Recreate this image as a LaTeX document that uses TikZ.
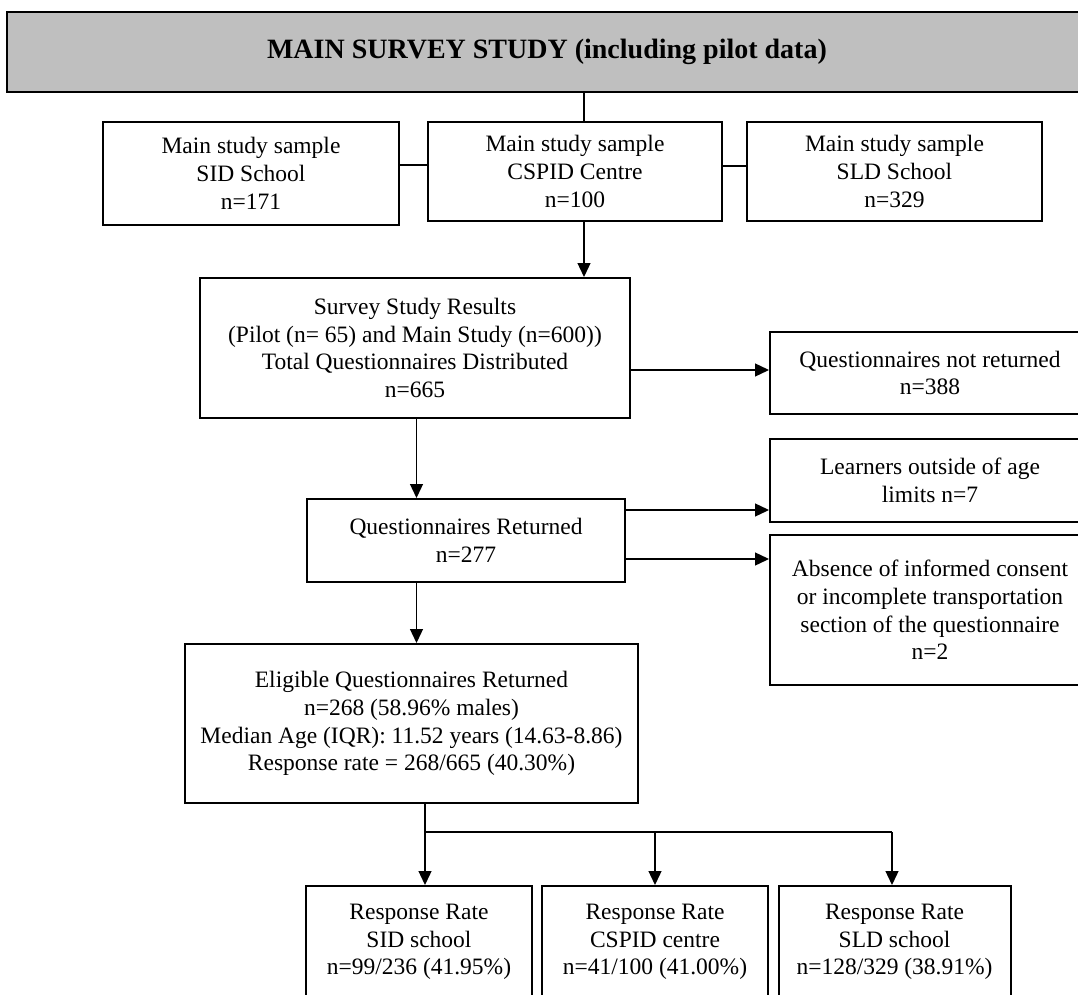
\documentclass[tikz,border=0pt]{standalone}
\usepackage{fontspec}
\setmainfont{Liberation Serif}
\usetikzlibrary{arrows.meta}
\definecolor{titlegray}{RGB}{191,191,191}
\begin{document}
\begin{tikzpicture}[x=1pt,y=-1pt,
  box/.style={draw=black,line width=2pt,rectangle,inner sep=0pt,align=center,
    font=\fontsize{23.5}{27.7}\selectfont},
  titlebox/.style={box,fill=titlegray,font=\fontsize{28}{33}\selectfont\bfseries},
  conn/.style={draw=black,line width=1.3pt},
  arr/.style={conn,-{Triangle[length=14pt,width=13pt]}}]
\clip (0,0) rectangle (1078,995);
\fill[white] (0,0) rectangle (1078,995);

\node[titlebox,minimum width=1080pt,minimum height=80pt] (title) at (547,52) {MAIN SURVEY STUDY (including pilot data)};

\node[box,minimum width=296pt,minimum height=103pt] (s1) at (251,173.5) {Main study sample\\SID School\\n=171};
\node[box,minimum width=294pt,minimum height=99pt] (s2) at (575,171.5) {Main study sample\\CSPID Centre\\n=100};
\node[box,minimum width=295pt,minimum height=99pt] (s3) at (894.5,171.5) {Main study sample\\SLD School\\n=329};

\node[box,minimum width=430pt,minimum height=140pt] (survey) at (415,348) {Survey Study Results\\(Pilot (n= 65) and Main Study (n=600))\\Total Questionnaires Distributed\\n=665};
\node[box,minimum width=320pt,minimum height=82pt] (notret) at (930,373) {Questionnaires not returned\\n=388};

\node[box,minimum width=318pt,minimum height=83pt] (qr) at (466,540.5) {Questionnaires Returned\\n=277};
\node[box,minimum width=320pt,minimum height=83pt] (learn) at (930,480.5) {Learners outside of age\\limits n=7};
\node[box,minimum width=320pt,minimum height=150pt] (absence) at (930,610) {Absence of informed consent\\or incomplete transportation\\section of the questionnaire\\n=2};

\node[box,minimum width=453pt,minimum height=159pt] (elig) at (411.5,723.5) {Eligible Questionnaires Returned\\n=268 (58.96\% males)\\Median Age (IQR): 11.52 years (14.63-8.86)\\Response rate = 268/665 (40.30\%)};

\node[box,minimum width=226pt,minimum height=112pt] (ra) at (419,942) {Response Rate\\SID school\\n=99/236 (41.95\%)};
\node[box,minimum width=226pt,minimum height=112pt] (rb) at (655,942) {Response Rate\\CSPID centre\\n=41/100 (41.00\%)};
\node[box,minimum width=232pt,minimum height=112pt] (rc) at (894.5,942) {Response Rate\\SLD school\\n=128/329 (38.91\%)};

% helper coordinates
\coordinate (xt) at (584,0);
\coordinate (y12) at (0,165);
\coordinate (y23) at (0,166);
\coordinate (ynr) at (0,370);
\coordinate (xd) at (416.5,0);
\coordinate (yl) at (0,510);
\coordinate (ya) at (0,559);
\coordinate (xe) at (425,0);
\coordinate (yh) at (0,832);
\coordinate (xb) at (655,0);
\coordinate (xc) at (892,0);

\draw[conn] (xt |- title.south) -- (xt |- s2.north);
\draw[conn] (s1.east |- y12) -- (s2.west |- y12);
\draw[conn] (s2.east |- y23) -- (s3.west |- y23);
\draw[arr] (xt |- s2.south) -- (xt |- survey.north);
\draw[arr] (survey.east |- ynr) -- (notret.west |- ynr);
\draw[arr] (xd |- survey.south) -- (xd |- qr.north);
\draw[arr] (qr.east |- yl) -- (learn.west |- yl);
\draw[arr] (qr.east |- ya) -- (absence.west |- ya);
\draw[arr] (xd |- qr.south) -- (xd |- elig.north);
\draw[arr] (xe |- elig.south) -- (xe |- ra.north);
\draw[conn] (xe |- yh) -- (xc |- yh);
\draw[arr] (xb |- yh) -- (xb |- rb.north);
\draw[arr] (xc |- yh) -- (xc |- rc.north);
\end{tikzpicture}
\end{document}
